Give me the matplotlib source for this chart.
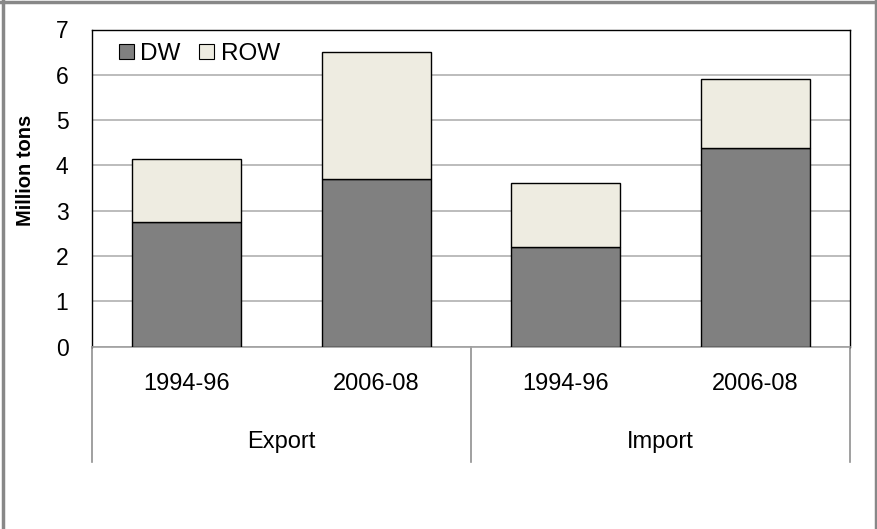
import matplotlib
matplotlib.use("Agg")
import matplotlib.pyplot as plt
import matplotlib.transforms as mtransforms
from matplotlib.lines import Line2D
from matplotlib.patches import Patch

plt.rcParams['font.family'] = ['Liberation Sans', 'DejaVu Sans']

# data (million tons)
groups = ["Export", "Import"]
periods = ["1994-96", "2006-08", "1994-96", "2006-08"]
dw = [2.76, 3.69, 2.19, 4.38]
row = [1.37, 2.82, 1.43, 1.53]

dw_color = "#808080"
row_color = "#EEECE1"

W, H = 877, 529
fig = plt.figure(figsize=(W / 100, H / 100), dpi=100)
ax = fig.add_axes([92 / W, 1 - 346.5 / H, (850 - 92) / W, (346.5 - 29.5) / H])

x = list(range(len(periods)))
ax.bar(x, dw, width=0.575, color=dw_color, edgecolor="black", linewidth=1, zorder=3)
ax.bar(x, row, width=0.575, bottom=dw, color=row_color, edgecolor="black", linewidth=1, zorder=3)

ax.set_xlim(-0.5, 3.5)
ax.set_ylim(0, 7)
ax.set_yticks(range(0, 8))
ax.tick_params(axis="y", length=0, pad=17, labelsize=16.5)
ax.set_xticks([])
ax.yaxis.grid(True, color="#b0b0b0", linewidth=1.2, zorder=0)
ax.set_axisbelow(True)
for s in ["left", "top", "right"]:
    ax.spines[s].set_color("black")
    ax.spines[s].set_linewidth(1)
ax.spines["bottom"].set_color("#a0a0a0")
ax.spines["bottom"].set_linewidth(1.2)

# two-level category axis below the plot
trans = mtransforms.blended_transform_factory(ax.transData, ax.transAxes)
ah = 346.5 - 29.5
for xi, lab in zip(x, periods):
    ax.text(xi, -(384 - 346.5) / ah, lab, transform=trans, ha="center", va="center", fontsize=17)
for gi, g in enumerate(groups):
    ax.text(gi * 2 + 0.5, -(442 - 346.5) / ah, g, transform=trans, ha="center", va="center", fontsize=17)
for xs in [-0.5, 1.5, 3.5]:
    ax.add_line(Line2D([xs, xs], [0, -(462 - 346.5) / ah], transform=trans, color="#909090",
                       linewidth=1.2, clip_on=False))

fig.text(26 / W, 1 - 170 / H, "Million tons", rotation=90, ha="center", va="center",
         fontsize=14.5, fontweight="bold")

handles = [Patch(facecolor=dw_color, edgecolor="black", linewidth=0.8),
           Patch(facecolor=row_color, edgecolor="black", linewidth=0.8)]
ax.legend(handles, ["DW", "ROW"], loc="center left", bbox_to_anchor=((119 - 92) / 758, (346.5 - 54) / ah),
          ncol=2, frameon=False, fontsize=17.5, handlelength=0.6, handleheight=0.6,
          handletextpad=0.28, columnspacing=0.76, borderpad=0, borderaxespad=0)

# outer frame
for xs, ys in [([3, 3], [0, H]), ([0, W], [2, 2]), ([875.5, 875.5], [0, H])]:
    fig.add_artist(Line2D([v / W for v in xs], [1 - v / H for v in ys], transform=fig.transFigure,
                          color="#888888", linewidth=2.5))

fig.savefig("out.png", dpi=100)
